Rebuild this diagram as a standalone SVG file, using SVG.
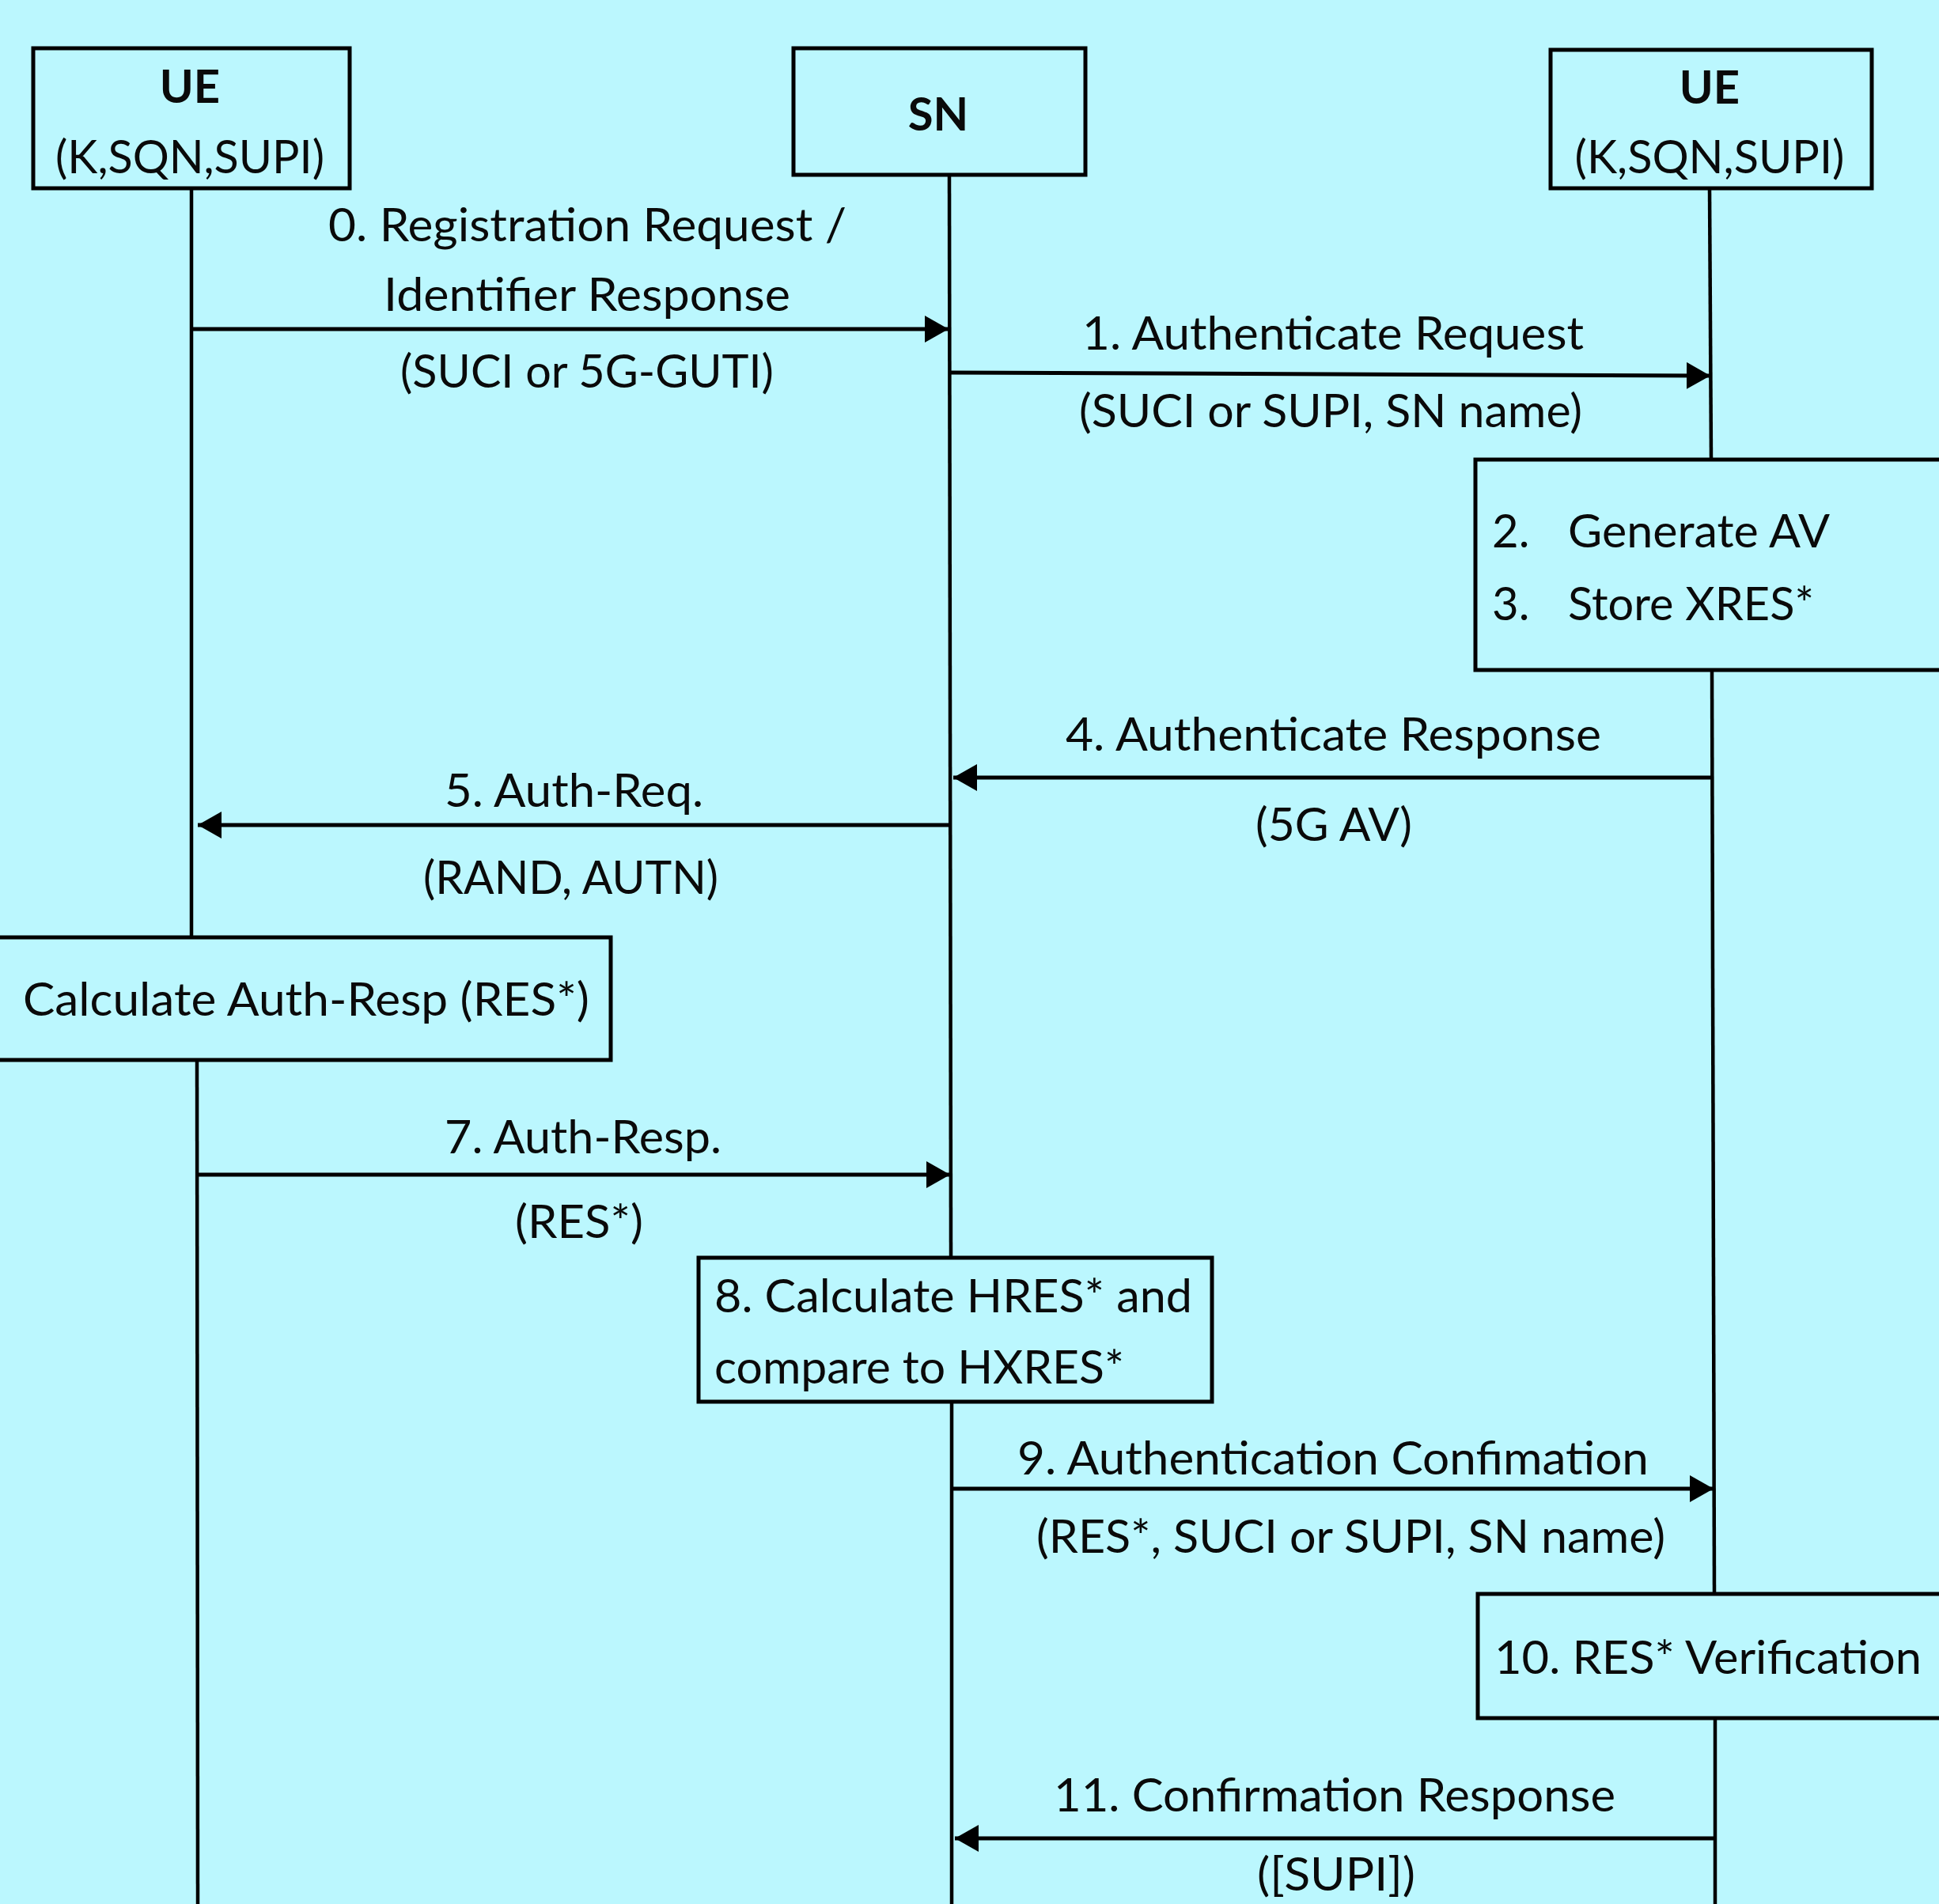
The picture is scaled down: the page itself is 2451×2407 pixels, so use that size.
<svg xmlns="http://www.w3.org/2000/svg" width="2451" height="2407" viewBox="0 0 2451 2407">
<defs>
<marker id="ah" markerUnits="userSpaceOnUse" markerWidth="32" markerHeight="34" refX="30" refY="17" orient="auto">
<path d="M0,0 L30,17 L0,34 Z" fill="#000"/>
</marker>
<style>
.box{fill:none;stroke:#000;stroke-width:5}
.life{stroke:#000;stroke-width:4.5;fill:none}
.msg{stroke:#000;stroke-width:5;fill:none;marker-end:url(#ah)}
text{font-family:Lato,"Open Sans","Liberation Sans",sans-serif;font-size:58px;fill:#0a0a0a}
.b{font-weight:bold}
.c{text-anchor:middle}
</style>
</defs>
<rect x="0" y="0" width="2451" height="2407" fill="#bbf7fe"/>
<g id="connectors">
<line class="life" x1="242" y1="238" x2="242" y2="1185"/>
<line class="life" x1="249" y1="1340" x2="250" y2="2407"/>
<line class="life" x1="1200" y1="221" x2="1202" y2="1590"/>
<line class="life" x1="1203" y1="1772" x2="1203" y2="2407"/>
<line class="life" x1="2161" y1="238" x2="2163" y2="581"/>
<line class="life" x1="2164" y1="847" x2="2167" y2="2015"/>
<line class="life" x1="2168" y1="2172" x2="2168" y2="2407"/>
<line class="msg" x1="242" y1="416" x2="1199" y2="416"/>
<line class="msg" x1="1200" y1="471" x2="2162" y2="475"/>
<line class="msg" x1="2164" y1="983" x2="1205" y2="983"/>
<line class="msg" x1="1202" y1="1043" x2="250" y2="1043"/>
<line class="msg" x1="249" y1="1485" x2="1201" y2="1485"/>
<line class="msg" x1="1203" y1="1882" x2="2166" y2="1882"/>
<line class="msg" x1="2167" y1="2324" x2="1207" y2="2324"/>
</g>
<g id="ue-left">
<rect class="box" x="42" y="61" width="400" height="177"/>
<text class="b c" x="240" y="130">UE</text>
<text class="c" x="240" y="219" textLength="340" lengthAdjust="spacingAndGlyphs">(K,SQN,SUPI)</text>
</g>
<g id="sn">
<rect class="box" x="1003" y="61" width="369" height="160"/>
<text class="b c" x="1186" y="165">SN</text>
</g>
<g id="ue-right">
<rect class="box" x="1960" y="63" width="406" height="175"/>
<text class="b c" x="2161" y="131">UE</text>
<text class="c" x="2161" y="219" textLength="341" lengthAdjust="spacingAndGlyphs">(K,SQN,SUPI)</text>
</g>
<g id="labels">
<text x="415" y="305" textLength="655" lengthAdjust="spacingAndGlyphs">0. Registration Request /</text>
<text x="485" y="393" textLength="514" lengthAdjust="spacingAndGlyphs">Identifier Response</text>
<text x="506" y="490" textLength="472" lengthAdjust="spacingAndGlyphs">(SUCI or 5G-GUTI)</text>
<text x="1368" y="442" textLength="634" lengthAdjust="spacingAndGlyphs">1. Authenticate Request</text>
<text x="1364" y="540" textLength="636" lengthAdjust="spacingAndGlyphs">(SUCI or SUPI, SN name)</text>
<text x="1347" y="949" textLength="677" lengthAdjust="spacingAndGlyphs">4. Authenticate Response</text>
<text x="1587" y="1063" textLength="198" lengthAdjust="spacingAndGlyphs">(5G AV)</text>
<text x="562" y="1020" textLength="327" lengthAdjust="spacingAndGlyphs">5. Auth-Req.</text>
<text x="535" y="1130" textLength="373" lengthAdjust="spacingAndGlyphs">(RAND, AUTN)</text>
<text x="562" y="1458" textLength="350" lengthAdjust="spacingAndGlyphs">7. Auth-Resp.</text>
<text x="651" y="1565" textLength="162" lengthAdjust="spacingAndGlyphs">(RES*)</text>
<text x="1286" y="1864" textLength="798" lengthAdjust="spacingAndGlyphs">9. Authentication Confimation</text>
<text x="1310" y="1963" textLength="795" lengthAdjust="spacingAndGlyphs">(RES*, SUCI or SUPI, SN name)</text>
<text x="1332" y="2290" textLength="710" lengthAdjust="spacingAndGlyphs">11. Confirmation Response</text>
<text x="1589" y="2390" textLength="200" lengthAdjust="spacingAndGlyphs">([SUPI])</text>
</g>
<g id="step-2-3">
<rect class="box" x="1865" y="581" width="620" height="266"/>
<text x="1886" y="692">2.</text>
<text x="1982" y="692" textLength="331" lengthAdjust="spacingAndGlyphs">Generate AV</text>
<text x="1886" y="784">3.</text>
<text x="1982" y="784" textLength="311" lengthAdjust="spacingAndGlyphs">Store XRES*</text>
</g>
<g id="step-6">
<rect class="box" x="-20" y="1185" width="792" height="155"/>
<text x="29" y="1284" textLength="716" lengthAdjust="spacingAndGlyphs">Calculate Auth-Resp (RES*)</text>
</g>
<g id="step-8">
<rect class="box" x="883" y="1590" width="649" height="182"/>
<text x="903" y="1659" textLength="604" lengthAdjust="spacingAndGlyphs">8. Calculate HRES* and</text>
<text x="903" y="1749" textLength="518" lengthAdjust="spacingAndGlyphs">compare to HXRES*</text>
</g>
<g id="step-10">
<rect class="box" x="1868" y="2015" width="620" height="157"/>
<text x="1889" y="2116" textLength="540" lengthAdjust="spacingAndGlyphs">10. RES* Verification</text>
</g>
</svg>
